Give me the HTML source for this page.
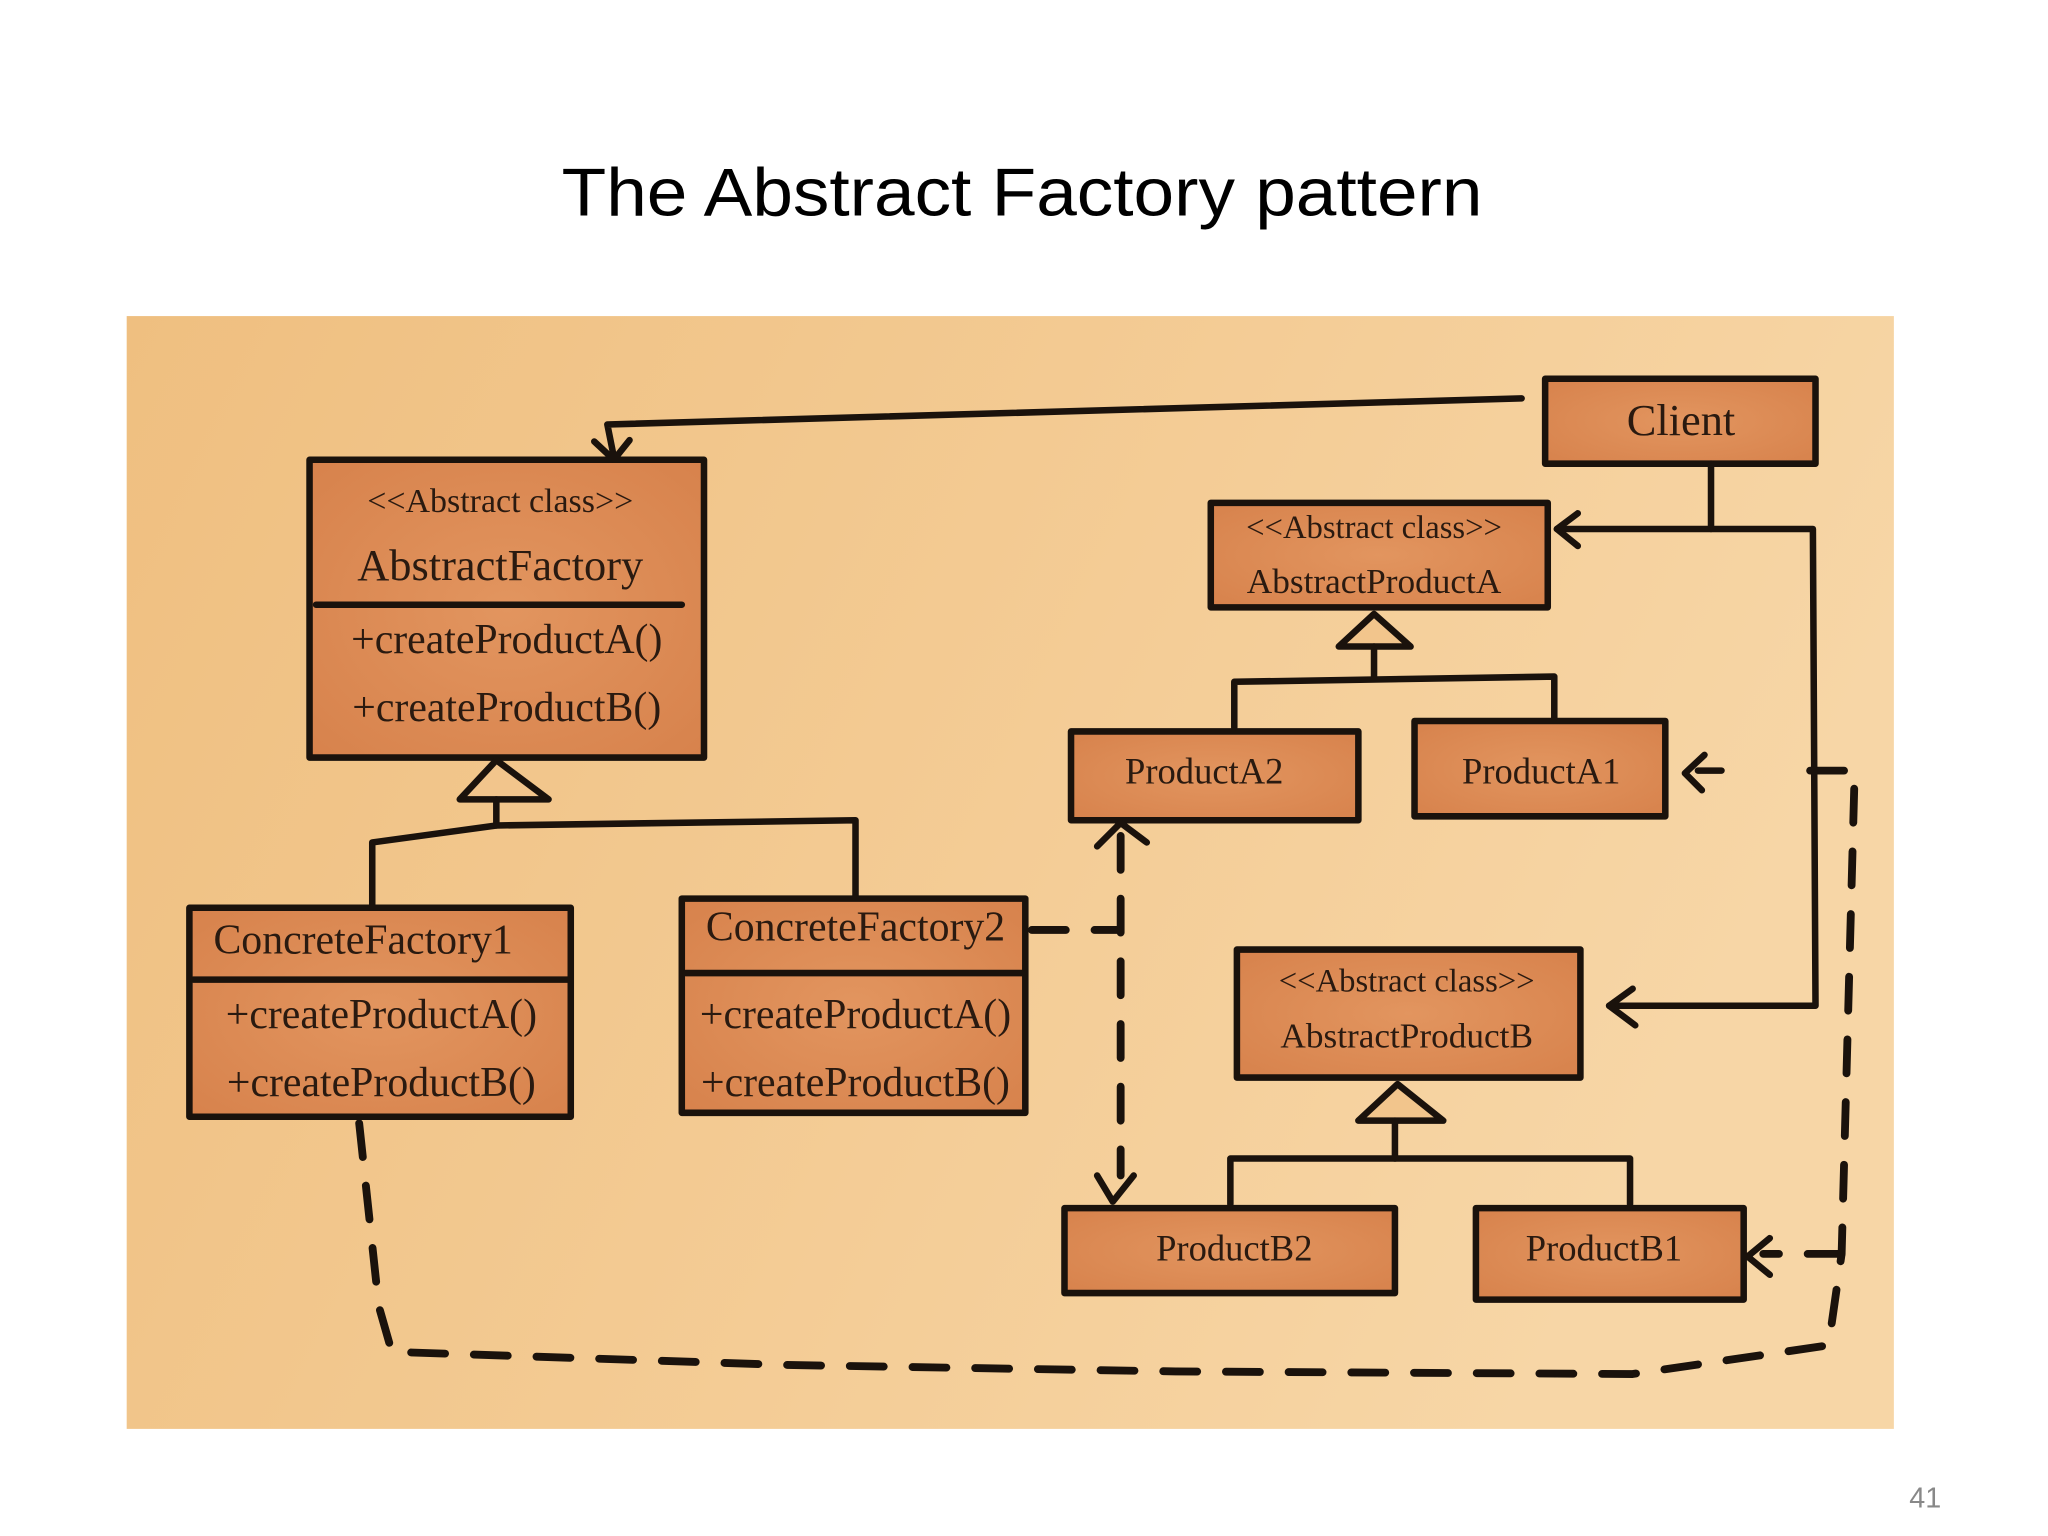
<!DOCTYPE html>
<html><head><meta charset="utf-8"><style>
html,body{margin:0;padding:0;background:#fff;width:2048px;height:1536px;overflow:hidden}
svg{display:block}
.t{font-family:"Liberation Serif",serif;fill:#2a1a10;text-anchor:middle}
</style></head><body>
<svg width="2048" height="1536" viewBox="0 0 1568 1176" xmlns="http://www.w3.org/2000/svg">
<defs>
<linearGradient id="bg" x1="0" y1="0" x2="1" y2="0.3">
<stop offset="0" stop-color="#efbf80"/><stop offset="0.5" stop-color="#f3ca92"/><stop offset="1" stop-color="#f7d6a6"/>
</linearGradient>
<radialGradient id="bx" cx="0.5" cy="0.5" r="0.7">
<stop offset="0" stop-color="#e2955f"/><stop offset="1" stop-color="#d7824c"/>
</radialGradient>
</defs>
<text x="430" y="165" font-family="Liberation Sans, sans-serif" font-size="52" textLength="705" lengthAdjust="spacingAndGlyphs" fill="#000">The Abstract Factory pattern</text>
<rect x="97" y="242" width="1353" height="852" fill="url(#bg)"/>
<text x="1474" y="1154" font-family="Liberation Sans, sans-serif" font-size="22" text-anchor="middle" fill="#888">41</text>
<g stroke="#1a120c" stroke-width="5" fill="url(#bx)" stroke-linejoin="round">
<rect x="1183" y="290" width="207" height="65"/>
<rect x="237" y="352" width="302" height="228"/>
<rect x="145" y="695" width="292" height="160"/>
<rect x="522" y="688" width="263" height="164"/>
<rect x="927" y="385" width="258" height="80"/>
<rect x="820" y="560" width="220" height="68"/>
<rect x="1083" y="552" width="192" height="73"/>
<rect x="947" y="727" width="263" height="98"/>
<rect x="815" y="925" width="253" height="65"/>
<rect x="1130" y="925" width="205" height="70"/>
</g>
<g stroke="#1a120c" stroke-width="5" fill="none" stroke-linecap="round" stroke-linejoin="round">
<line x1="242" y1="463" x2="522" y2="463"/>
<line x1="148" y1="750" x2="435" y2="750"/>
<line x1="525" y1="745" x2="783" y2="745"/>
<polygon points="380,582 352,612 420,612" fill="#f2c58c"/>
<polyline points="380,612 380,632"/>
<polyline points="285,693 285,645 380,632 655,628 655,686"/>
<polygon points="1052,470 1025,495 1080,495" fill="#f2c58c"/>
<polyline points="1052,495 1052,520"/>
<polyline points="945,557 945,522 1190,518 1190,550"/>
<polygon points="1070,830 1040,858 1105,858" fill="#f2c58c"/>
<polyline points="1068,858 1068,887"/>
<polyline points="942,922 942,887 1248,887 1248,922"/>
<polyline points="1165,305 465,325 470,350"/>
<polyline points="455,338 470,352 482,337"/>
<polyline points="1310,355 1310,405 1192,405"/>
<polyline points="1208,393 1192,405 1208,418"/>
<polyline points="1310,405 1388,405 1390,770 1232,770"/>
<polyline points="1250,757 1232,770 1252,785"/>
<g stroke-dasharray="26,22" stroke-width="6">
<polyline points="275,860 290,1000 300,1035 600,1045 900,1050 1250,1052 1400,1030 1410,960 1420,590 1365,590"/>
<polyline points="790,712 855,712"/>
<polyline points="858,640 858,900"/>
<polyline points="1410,960 1350,960"/>
</g>
<polyline points="1318,590 1300,590"/>
<polyline points="1305,578 1290,592 1303,605"/>
<polyline points="1355,948 1338,962 1355,976"/>
<polyline points="840,648 858,630 878,645"/>
<polyline points="840,900 852,920 868,900"/>
</g>
<text class="t" x="383" y="392" font-size="26">&lt;&lt;Abstract class&gt;&gt;</text>
<text class="t" x="383" y="444" font-size="34">AbstractFactory</text>
<text class="t" x="388" y="500" font-size="32">+createProductA()</text>
<text class="t" x="388" y="552" font-size="32">+createProductB()</text>
<text class="t" x="1287" y="333" font-size="34">Client</text>
<text class="t" x="278" y="730" font-size="32">ConcreteFactory1</text>
<text class="t" x="292" y="787" font-size="32">+createProductA()</text>
<text class="t" x="292" y="839" font-size="32">+createProductB()</text>
<text class="t" x="655" y="720" font-size="32">ConcreteFactory2</text>
<text class="t" x="655" y="787" font-size="32">+createProductA()</text>
<text class="t" x="655" y="839" font-size="32">+createProductB()</text>
<text class="t" x="1052" y="412" font-size="25">&lt;&lt;Abstract class&gt;&gt;</text>
<text class="t" x="1052" y="454" font-size="27">AbstractProductA</text>
<text class="t" x="922" y="600" font-size="28">ProductA2</text>
<text class="t" x="1180" y="600" font-size="28">ProductA1</text>
<text class="t" x="1077" y="759" font-size="25">&lt;&lt;Abstract class&gt;&gt;</text>
<text class="t" x="1077" y="802" font-size="27">AbstractProductB</text>
<text class="t" x="945" y="965" font-size="28">ProductB2</text>
<text class="t" x="1228" y="965" font-size="28">ProductB1</text>
</svg>
</body></html>
